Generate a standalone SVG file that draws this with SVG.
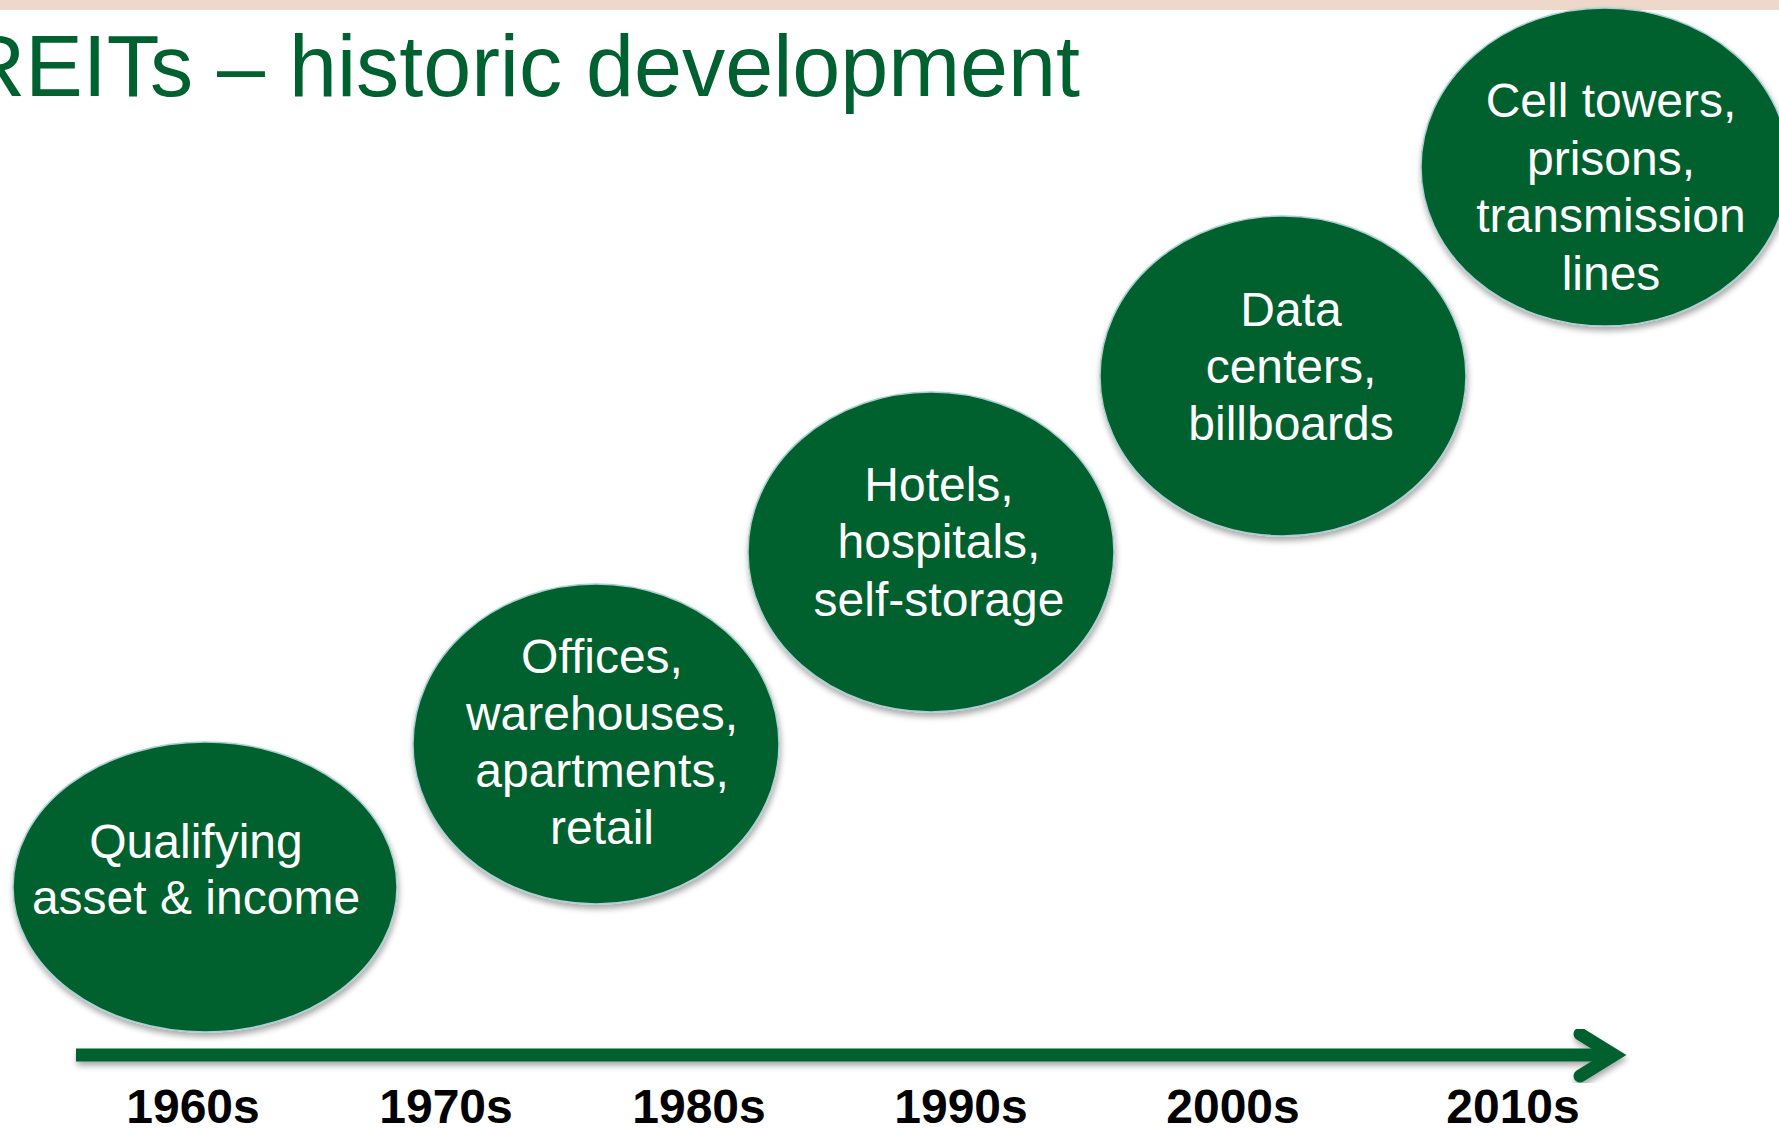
<svg xmlns="http://www.w3.org/2000/svg" width="1779" height="1128" viewBox="0 0 1779 1128">
<defs>
<filter id="sh" x="-10%" y="-10%" width="120%" height="125%">
<feGaussianBlur in="SourceAlpha" stdDeviation="3"/>
<feOffset dx="1" dy="4" result="b"/>
<feComponentTransfer><feFuncA type="linear" slope="0.35"/></feComponentTransfer>
<feMerge><feMergeNode/><feMergeNode in="SourceGraphic"/></feMerge>
</filter>
<style>
.el{fill:#00612e;stroke:#a9cfd3;stroke-width:1.5;filter:url(#sh)}
.lbl{font-family:"Liberation Sans",Arial,sans-serif;font-size:48px;fill:#ffffff;text-anchor:middle}
.yr{font-family:"Liberation Sans",Arial,sans-serif;font-size:48px;font-weight:bold;fill:#000;text-anchor:middle}
.title{font-family:"Liberation Sans",Arial,sans-serif;font-size:88px;fill:#006130}
</style>
</defs>
<rect width="1779" height="1128" fill="#ffffff"/>
<rect x="0" y="0" width="1779" height="10" fill="#eed8c9"/>
<text class="title" x="-37" y="96" textLength="1117" lengthAdjust="spacingAndGlyphs">REITs – historic development</text>

<g id="connectors" filter="url(#sh)">
<line x1="76" y1="1055" x2="1610" y2="1055" stroke="#00612e" stroke-width="13"/>
<polyline points="1580,1034 1614,1055 1580,1076" fill="none" stroke="#00612e" stroke-width="13" stroke-linecap="round" stroke-linejoin="miter"/>
</g>

<g id="node-1960s">
<ellipse class="el" cx="205" cy="887" rx="192" ry="145"/>
<text class="lbl" x="196" y="858">Qualifying</text>
<text class="lbl" x="196" y="914">asset &amp; income</text>
</g>
<g id="node-1970s">
<ellipse class="el" cx="596" cy="744" rx="183" ry="160"/>
<text class="lbl" x="602" y="673">Offices,</text>
<text class="lbl" x="602" y="730">warehouses,</text>
<text class="lbl" x="602" y="787">apartments,</text>
<text class="lbl" x="602" y="844">retail</text>
</g>
<g id="node-1980s">
<ellipse class="el" cx="931" cy="552" rx="183" ry="160"/>
<text class="lbl" x="939" y="501">Hotels,</text>
<text class="lbl" x="939" y="558">hospitals,</text>
<text class="lbl" x="939" y="616">self-storage</text>
</g>
<g id="node-1990s">
<ellipse class="el" cx="1283" cy="376" rx="183" ry="160"/>
<text class="lbl" x="1291" y="326">Data</text>
<text class="lbl" x="1291" y="383">centers,</text>
<text class="lbl" x="1291" y="440">billboards</text>
</g>
<g id="node-2000s">
<ellipse class="el" cx="1605" cy="167" rx="184" ry="159"/>
<text class="lbl" x="1611" y="117">Cell towers,</text>
<text class="lbl" x="1611" y="175">prisons,</text>
<text class="lbl" x="1611" y="232">transmission</text>
<text class="lbl" x="1611" y="290">lines</text>
</g>

<g id="labels">
<text class="yr" x="193" y="1123">1960s</text>
<text class="yr" x="446" y="1123">1970s</text>
<text class="yr" x="699" y="1123">1980s</text>
<text class="yr" x="961" y="1123">1990s</text>
<text class="yr" x="1233" y="1123">2000s</text>
<text class="yr" x="1513" y="1123">2010s</text>
</g>
</svg>
